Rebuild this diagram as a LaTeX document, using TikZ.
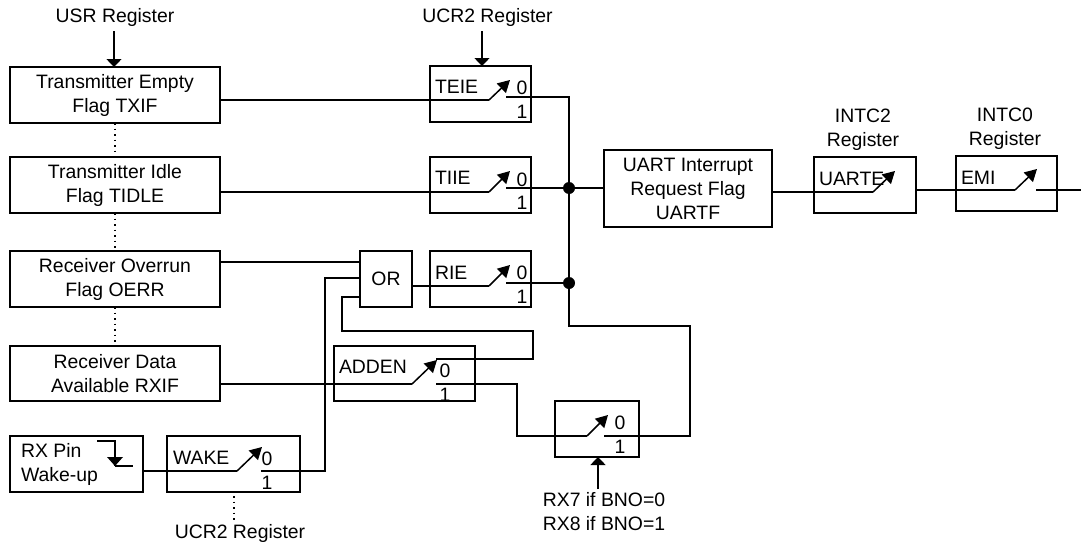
\documentclass[tikz,border=0pt]{standalone}
\usepackage{fontspec}
\setmainfont{Liberation Sans}
\usetikzlibrary{arrows.meta}
\tikzset{
  x=1pt,y=-1pt,
  every node/.style={font=\fontsize{19.4}{24}\selectfont,inner sep=0pt,outer sep=0pt},
  wire/.style={draw=black,line width=1.5pt,line join=miter},
  box/.style={draw=black,line width=1.5pt,rectangle,align=center,fill=none},
  txt/.style={align=center},
  sw/.style={draw=black,line width=1.5pt,-{Triangle[length=12pt,width=13pt]}},
  feed/.style={draw=black,line width=1.5pt,-{Triangle[length=8pt,width=15pt]}},
  dotline/.style={draw=black,line width=1.2pt,dash pattern=on 1.5pt off 4pt},
  junction/.style={circle,fill=black,draw=none,minimum size=12pt},
}
\newcommand{\rbox}[6][]{\node[box,minimum width=#4 pt,minimum height=#5 pt,#1] (#2) at (#3) {#6};}
\newcommand{\switch}[5]{% name, pivot x, pivot y, tip x, tip y
  \coordinate (#1P) at (#2,#3);
  \coordinate (#1T) at (#4,#5);
  \draw[sw] (#1P) -- (#1T);
}
\begin{document}
\begin{tikzpicture}
\useasboundingbox (0,0) rectangle (1081,546);
% left column
\rbox{txif}{115,95}{210}{56}{Transmitter Empty\\Flag TXIF}
\rbox{tidle}{115,185}{210}{56}{Transmitter Idle\\Flag TIDLE}
\rbox{oerr}{115,279}{210}{56}{Receiver Overrun\\Flag OERR}
\rbox{rxif}{115,373.5}{210}{55}{Receiver Data\\Available RXIF}
\rbox{rxpin}{76.5,464}{133}{56}{}
\node[anchor=west,align=left] (lrxpin) at (21,464) {RX Pin\\Wake-up};
% switch boxes
\rbox{teie}{480.5,94}{101}{56}{}
\rbox{tiie}{480.5,185}{101}{56}{}
\rbox{rie}{480.5,279}{101}{56}{}
\rbox{or}{386,279}{52}{56}{OR}
\rbox{adden}{404.5,373.5}{141}{55}{}
\rbox{wake}{233.5,464}{133}{56}{}
\rbox{sel}{597,429}{84}{56}{}
\rbox{uartf}{688,188.5}{168}{77}{UART Interrupt\\Request Flag\\UARTF}
\rbox{uarte}{865,185}{102}{56}{}
\rbox{emi}{1006.5,183.5}{101}{55}{}
% box labels
\node[anchor=west] (lteie) at (435,87) {TEIE};
\node[anchor=west] (ltiie) at (435,178) {TIIE};
\node[anchor=west] (lrie) at (435,273) {RIE};
\node[anchor=west] (ladden) at (339,367) {ADDEN};
\node[anchor=west] (lwake) at (173,458) {WAKE};
\node[anchor=west] (luarte) at (819,179) {UARTE};
\node[anchor=west] (lemi) at (961,178) {EMI};
% contact numbers
\foreach \n/\x/\yz/\yo in {a/522/88/112,b/522/180/203,c/522/273/297,d/445/371/395,e/267/459/483,f/620/423/447}{
  \node (z\n) at (\x,\yz) {0};
  \node (o\n) at (\x,\yo) {1};
}
% outside labels
\node (usr) at (115,17) {USR Register};
\node (ucra) at (487.5,17) {UCR2 Register};
\node (ucrb) at (240,533) {UCR2 Register};
\node[txt] (intctwo) at (863,130) {INTC2\\Register};
\node[txt] (intczero) at (1005,129) {INTC0\\Register};
\node[txt] (rxsel) at (604,511.5) {RX7 if BNO=0\\RX8 if BNO=1};
% switches
\switch{teieS}{489}{100}{510}{80}
\switch{tiieS}{489}{192}{510}{171}
\switch{rieS}{489}{286}{510}{265}
\switch{addenS}{412}{384}{437}{360}
\switch{wakeS}{237}{471}{262}{447}
\switch{selS}{587}{436}{608}{415}
\switch{uarteS}{873}{192}{895}{171}
\switch{emiS}{1015}{190}{1037}{169}
% switched outputs
\coordinate (teieO) at (506,97);
\coordinate (tiieO) at (506,188);
\coordinate (rieO) at (506,283);
\coordinate (addenA) at (436,359);
\coordinate (addenO) at (436,384);
\coordinate (wakeO) at (261,471);
\coordinate (selO) at (604,436);
\coordinate (emiO) at (1036,190);
\coordinate (exit) at (1081,190);
\node[junction] (j1) at (569,188) {};
\node[junction] (j2) at (569,283) {};
% wires
\draw[wire] (txif.east |- teieSP) -- (teieSP);
\draw[wire] (tidle.east |- tiieSP) -- (tiieSP);
\draw[wire] (teieO) -| (j1.center);
\draw[wire] (tiieO) -- (j1.center) -- (uartf.west |- j1);
\draw[wire] (j1.center) -- (j2.center);
\draw[wire] (rieO) -- (j2.center);
\draw[wire] (or.east |- rieSP) -- (rieSP);
\draw[wire] (oerr.east |- 0,262) -- (or.west |- 0,262);
\draw[wire] (rxpin.east |- wakeSP) -- (wakeSP);
\draw[wire] (wakeO) -- (325,471) -- (325,278) -- (or.west |- 0,278);
\draw[wire] (or.west |- 0,297) -- (342,297) -- (342,331) -- (533,331) -- (533,359) -- (addenA);
\draw[wire] (rxif.east |- addenSP) -- (addenSP);
\draw[wire] (addenO) -- (517,384) -- (517,436) -- (selSP);
\draw[wire] (selO) -- (690,436) -- (690,326) -- (569,326) -- (j2.center);
\draw[wire] (uartf.east |- uarteSP) -- (uarteSP);
\draw[wire] (uarte.east |- emiSP) -- (emiSP);
\draw[wire] (emiO) -- (exit);
% register feeds
\draw[feed] (114,31) -- (txif.north -| 114,0);
\draw[feed] (482,31) -- (teie.north -| 482,0);
\draw[feed] (598,489) -- (sel.south -| 598,0);
% dotted
\draw[dotline] (txif.south -| 115,0) -- (tidle.north -| 115,0);
\draw[dotline] (tidle.south -| 115,0) -- (oerr.north -| 115,0);
\draw[dotline] (oerr.south -| 115,0) -- (rxif.north -| 115,0);
\draw[dotline] (234,496) -- (234,520);
% falling edge symbol
\draw[wire] (97,441) -- (115,441) -- (115,466);
\draw[wire] (115,466) -- (133,466);
\fill (107,457) -- (123,457) -- (115,466) -- cycle;
\end{tikzpicture}
\end{document}
